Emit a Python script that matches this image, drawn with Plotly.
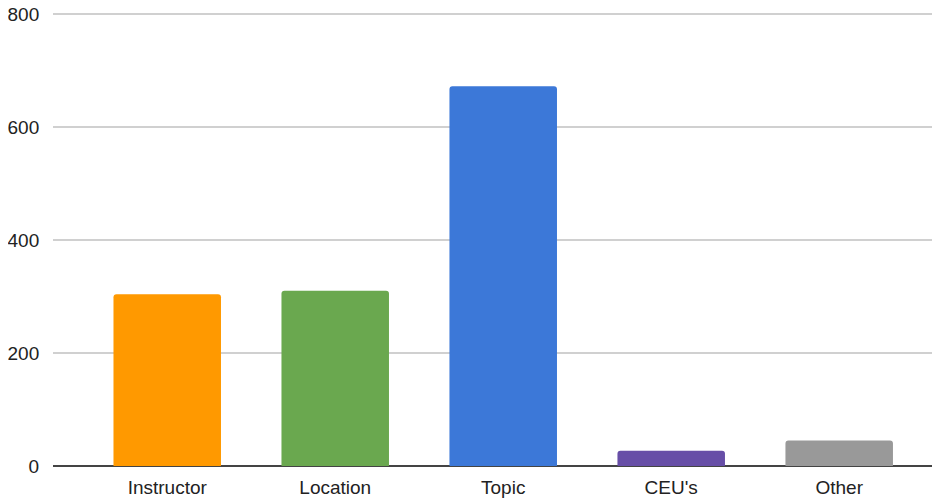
import plotly.graph_objects as go

categories = ["Instructor", "Location", "Topic", "CEU's", "Other"]
values = [304, 310, 672, 27, 45]
colors = ["#ff9900", "#6aa84f", "#3c78d8", "#674ea7", "#999999"]
y_ticks = [0, 200, 400, 600, 800]

fig = go.Figure(go.Bar(
    x=categories, y=values, marker=dict(color=colors, line=dict(width=0)),
    width=0.64,
))

# page body has an 8px margin, so the figure is sized to the visible area
fig.update_layout(
    width=932, height=493,
    margin=dict(l=45, r=0, t=3, b=35),
    plot_bgcolor="white", paper_bgcolor="white",
    font=dict(family="Arial, Liberation Sans, sans-serif", size=19, color="#222222"),
    showlegend=False,
    barcornerradius=3,
    xaxis=dict(range=[-0.68, 4.6], showgrid=False, showline=False, zeroline=False,
               ticks="outside", ticklen=4, tickcolor="rgba(0,0,0,0)", automargin=False),
    yaxis=dict(range=[0, 805.3], tickvals=y_ticks, showgrid=True, gridcolor="#d0d0d0",
               gridwidth=1.5, zeroline=True, zerolinecolor="#444444", zerolinewidth=1.5,
               ticks="outside", ticklen=9, tickcolor="rgba(0,0,0,0)", showline=False,
               automargin=False, ticklabeloverflow="allow"),
)

fig.write_html("out.html")
